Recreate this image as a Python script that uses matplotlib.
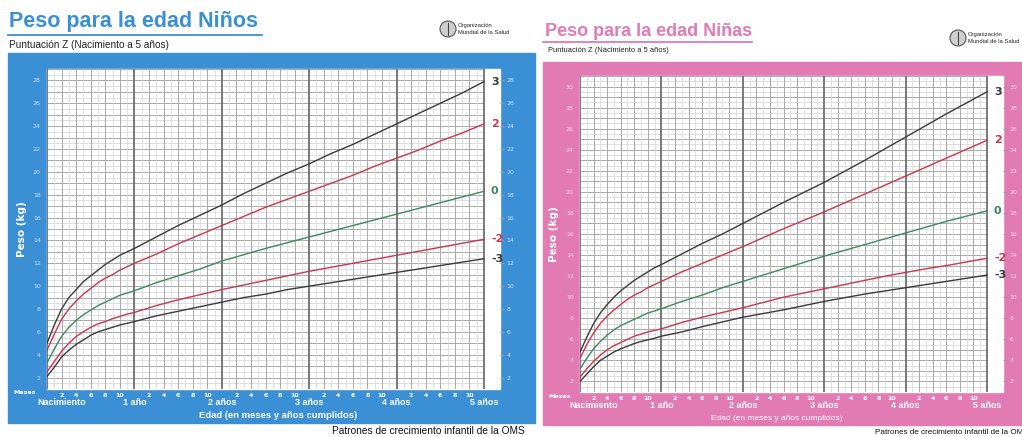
import matplotlib.pyplot as plt
import matplotlib.patches as mpatches
import numpy as np

# WHO weight-for-age, z-score lines
months = [0, 1, 2, 3, 4, 5, 6, 7, 8, 9, 10, 11, 12, 15, 18, 21, 24, 27, 30,
          33, 36, 39, 42, 45, 48, 51, 54, 57, 60]

boys_m3 = [2.1, 2.9, 3.8, 4.4, 4.9, 5.3, 5.7, 6.0, 6.2, 6.4, 6.6, 6.75, 6.9, 7.4, 7.8,
           8.2, 8.6, 9.0, 9.3, 9.7, 10.0, 10.3, 10.6, 10.9, 11.2, 11.5, 11.8, 12.1, 12.4]
boys_m2 = [2.5, 3.4, 4.3, 5.0, 5.6, 6.0, 6.4, 6.7, 6.9, 7.15, 7.35, 7.55, 7.7, 8.3, 8.8,
           9.25, 9.7, 10.1, 10.5, 10.9, 11.3, 11.65, 12.0, 12.35, 12.7, 13.05, 13.4, 13.75, 14.1]
boys_0 = [3.3, 4.5, 5.6, 6.4, 7.0, 7.5, 7.9, 8.3, 8.6, 8.9, 9.2, 9.4, 9.6, 10.3, 10.9,
          11.5, 12.2, 12.75, 13.3, 13.8, 14.3, 14.8, 15.3, 15.8, 16.3, 16.8, 17.3, 17.8, 18.3]
boys_p2 = [4.4, 5.8, 7.1, 8.0, 8.7, 9.3, 9.8, 10.3, 10.7, 11.0, 11.4, 11.7, 12.0, 12.8, 13.7,
           14.5, 15.3, 16.1, 16.9, 17.6, 18.3, 19.0, 19.7, 20.5, 21.2, 21.9, 22.7, 23.4, 24.2]
boys_p3 = [5.0, 6.6, 8.0, 9.0, 9.7, 10.4, 10.9, 11.4, 11.9, 12.3, 12.7, 13.0, 13.3, 14.3, 15.3,
           16.2, 17.1, 18.1, 19.0, 19.9, 20.7, 21.6, 22.4, 23.3, 24.2, 25.1, 26.0, 26.9, 27.9]

girls_m3 = [2.0, 2.7, 3.4, 4.0, 4.4, 4.8, 5.1, 5.35, 5.6, 5.8, 5.95, 6.1, 6.3, 6.7, 7.2,
            7.65, 8.1, 8.45, 8.8, 9.2, 9.6, 9.95, 10.3, 10.6, 10.9, 11.2, 11.5, 11.8, 12.1]
girls_m2 = [2.4, 3.2, 3.9, 4.5, 5.0, 5.4, 5.7, 6.0, 6.3, 6.5, 6.7, 6.85, 7.0, 7.6, 8.1,
            8.55, 9.0, 9.5, 10.0, 10.4, 10.8, 11.2, 11.6, 12.0, 12.35, 12.7, 13.0, 13.35, 13.7]
girls_0 = [3.2, 4.2, 5.1, 5.8, 6.4, 6.9, 7.3, 7.6, 7.9, 8.2, 8.5, 8.7, 8.9, 9.6, 10.2,
           10.9, 11.5, 12.1, 12.7, 13.3, 13.9, 14.45, 15.0, 15.55, 16.1, 16.65, 17.2, 17.7, 18.2]
girls_p2 = [4.2, 5.5, 6.6, 7.5, 8.2, 8.8, 9.3, 9.8, 10.2, 10.5, 10.9, 11.2, 11.5, 12.4, 13.2,
            14.0, 14.8, 15.65, 16.5, 17.3, 18.1, 18.95, 19.8, 20.65, 21.5, 22.35, 23.2, 24.05, 24.9]
girls_p3 = [4.8, 6.2, 7.5, 8.5, 9.3, 10.0, 10.6, 11.1, 11.6, 12.0, 12.4, 12.8, 13.1, 14.1, 15.1,
            16.0, 17.0, 18.0, 19.0, 19.95, 20.9, 21.95, 23.0, 24.1, 25.2, 26.3, 27.4, 28.45, 29.5]

z_labels = ["3", "2", "0", "-2", "-3"]
year_labels = ["Nacimiento", "1 año", "2 años", "3 años", "4 años", "5 años"]
month_labels = ["2", "4", "6", "8", "10"]

W, H = 1022, 437
BLUE = "#3a8fd5"
PINK = "#e27ab4"
DARK = "#3a3a3a"
RED = "#c9364f"
GREEN = "#3a8a5e"
SANS = "Liberation Sans"


def fx(x):
    return x / W


def fy(y):
    return 1 - y / H


def rect(fig, x0, y0, x1, y1, color, z=-2):
    fig.patches.append(mpatches.Rectangle((fx(x0), fy(y1)), fx(x1 - x0), (y1 - y0) / H,
                                          transform=fig.transFigure, color=color, zorder=z))


def panel(fig, c, frame, plot, white_r, ymax, series, title, title_px, title_fs,
          sub_px, sub_fs, logo_px, tick_c, edad_x, edad_fs, edad_bold, peso_x,
          patr_px, patr_fs, ha_patr):
    rect(fig, *frame, color=c)
    x0, y0, x1, y1 = plot
    rect(fig, x0, y0, white_r, y1, "white", z=-1)
    xmax = 60 * (white_r - x0) / (x1 - x0)
    ax = fig.add_axes([fx(x0), fy(y1), fx(white_r - x0), (y1 - y0) / H])
    ax.patch.set_alpha(0)
    ax.set_xlim(0, xmax)
    ax.set_ylim(1, ymax)
    for s in ax.spines.values():
        s.set_visible(False)

    # grid
    for k in np.arange(1, ymax + 0.01, 0.5):
        major = abs(k - round(k)) < 0.01
        ax.plot([0, 60], [k, k], color="#a9a9a9" if major else "#d4d4d4",
                lw=0.7 if major else 0.5, zorder=1)
    for m in range(0, 61):
        if m % 12 == 0:
            ax.plot([m, m], [1, ymax], color="#6e6e6e", lw=1.3, zorder=2)
        else:
            ax.plot([m, m], [1, ymax], color="#a9a9a9" if m % 2 == 0 else "#d4d4d4",
                    lw=0.7 if m % 2 == 0 else 0.5, zorder=1)

    colors = [DARK, RED, GREEN, RED, DARK]
    for vals, lab, col in zip(series, z_labels, colors):
        ax.plot(months, vals, color=col, lw=1.0, zorder=3)
        ax.annotate(lab, (60, vals[-1]), xytext=(5, 0), textcoords="offset points",
                    color=col, fontsize=8, fontweight="bold", va="center", ha="left",
                    annotation_clip=False)

    yt = list(range(2, int(ymax), 2))
    ax.set_yticks(yt)
    ax.set_yticklabels([str(v) for v in yt])
    ax.tick_params(axis="y", left=False, right=True, labelleft=True, labelright=True,
                   labelsize=4.5, labelcolor=tick_c, color="#9a9a9a", length=3, pad=1.5)
    ax.set_xticks([])

    # month numbers and year labels below the plot
    tr = ax.get_xaxis_transform()
    for yr in range(5):
        for j, ml in enumerate(month_labels):
            ax.text(yr * 12 + 2 * (j + 1), -0.012, ml, transform=tr, ha="center", va="top",
                    fontsize=4.5, color="white", fontweight="bold")
    for i, yl in enumerate(year_labels):
        xpos = 2.0 if i == 0 else i * 12
        ax.text(xpos, -0.027, yl, transform=tr, ha="center", va="top",
                fontsize=6.5, color="white", fontweight="bold", family=SANS)
    fig.text(fx(frame[0] + 17), fy(y1 + 4), "Meses", fontsize=4.5, color="white",
             fontweight="bold", ha="center", va="center")
    fig.text(fx(edad_x), fy(frame[3] - 7), "Edad (en meses y años cumplidos)",
             fontsize=edad_fs, color="white", fontweight="bold" if edad_bold else "normal",
             ha="center", va="center", family=SANS)
    fig.text(fx(peso_x), fy((y0 + y1) / 2), "Peso (kg)", rotation=90,
             fontsize=7.5, color="white", fontweight="bold", ha="center", va="center")

    # header
    fig.text(fx(title_px[0]), fy(title_px[1]), title, fontsize=title_fs, color=c,
             fontweight="bold", ha="left", va="center", family=SANS)
    fig.lines.append(plt.Line2D([fx(frame[0]), fx(title_px[2])], [fy(title_px[3])] * 2,
                                transform=fig.transFigure, color=c, lw=1.3))
    fig.text(fx(sub_px[0]), fy(sub_px[1]), "Puntuación Z (Nacimiento a 5 años)",
             fontsize=sub_fs, color="#222222", ha="left", va="center", family=SANS)
    lx, ly = logo_px
    fig.patches.append(mpatches.Ellipse((fx(lx), fy(ly)), 16 / W, 16 / H,
                                        transform=fig.transFigure, facecolor="#cfcfcf",
                                        edgecolor="#555555", lw=0.8))
    fig.lines.append(plt.Line2D([fx(lx), fx(lx)], [fy(ly - 6), fy(ly + 6)],
                                transform=fig.transFigure, color="#444444", lw=0.8))
    fig.text(fx(lx + 10), fy(ly), "Organización\nMundial de la Salud", fontsize=4.2,
             color="#222222", ha="left", va="center", linespacing=1.3, family=SANS)
    fig.text(fx(patr_px[0]), fy(patr_px[1]), "Patrones de crecimiento infantil de la OMS",
             fontsize=patr_fs, color="#111111", ha=ha_patr, va="center", family=SANS)


fig = plt.figure(figsize=(W / 100, H / 100), dpi=100)

panel(fig, BLUE, (8, 53, 535, 423), (47, 69, 484, 389), 500, 29,
      [boys_p3, boys_p2, boys_0, boys_m2, boys_m3],
      "Peso para la edad Niños", (9, 21, 262, 35), 15.5, (9, 45), 7.2, (448, 29),
      "#cfe2f4", 278, 6.8, True, 22, (525, 431), 7.3, "right")

panel(fig, PINK, (543, 62, 1022, 425), (580, 76, 987, 392), 1003, 31,
      [girls_p3, girls_p2, girls_0, girls_m2, girls_m3],
      "Peso para la edad Niñas", (545, 31, 752, 42), 13, (548, 50), 5.4, (958, 38),
      "#f6d3e6", 777, 6.0, False, 554, (875, 433), 5.9, "left")

fig.savefig("out.png", dpi=100)
